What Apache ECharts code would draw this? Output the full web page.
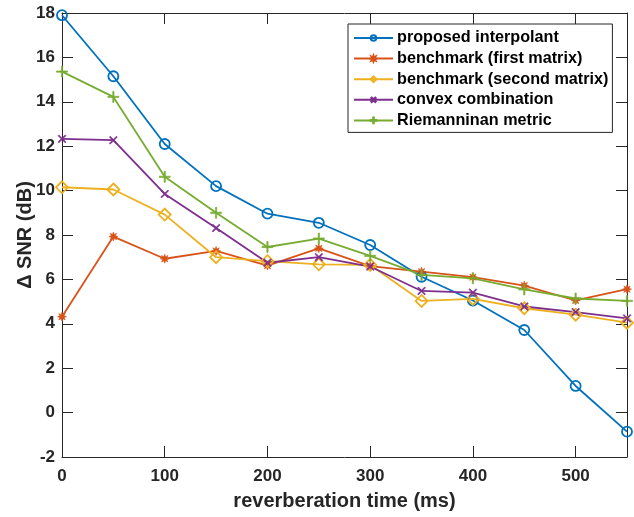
<!DOCTYPE html>
<html><head><meta charset="utf-8">
<script src="https://cdn.jsdelivr.net/npm/echarts@6/dist/echarts.min.js"></script>
<style>html,body{margin:0;padding:0;background:#fff}#c{width:634px;height:517px}</style>
</head><body><div id="c"></div>
<script>
const times = [0, 50, 100, 150, 200, 250, 300, 350, 400, 450, 500, 550];
const proposed = [17.9, 15.15, 12.1, 10.2, 8.96, 8.55, 7.55, 6.12, 5.05, 3.72, 1.2, -0.86];
const bench1 = [4.32, 7.93, 6.93, 7.28, 6.62, 7.4, 6.6, 6.35, 6.1, 5.72, 5.05, 5.56];
const bench2 = [10.15, 10.05, 8.92, 7.0, 6.82, 6.68, 6.65, 5.03, 5.12, 4.7, 4.41, 4.05];
const convex = [12.33, 12.27, 9.85, 8.31, 6.75, 7.0, 6.58, 5.48, 5.4, 4.78, 4.53, 4.24];
const riemann = [15.36, 14.22, 10.62, 9.0, 7.46, 7.84, 7.06, 6.2, 6.05, 5.55, 5.14, 5.03];
const seriesNames = ['proposed interpolant', 'benchmark (first matrix)', 'benchmark (second matrix)', 'convex combination', 'Riemanninan metric'];
const yTicks = {min: -2, max: 18, interval: 2};
const xTicks = {min: 0, max: 550, interval: 100};

const axisCol = '#262626';
const font = 'Liberation Sans, Arial, Helvetica, sans-serif';
const plus = 'path://M-0.6,-5L0.6,-5L0.6,-0.6L5,-0.6L5,0.6L0.6,0.6L0.6,5L-0.6,5L-0.6,0.6L-5,0.6L-5,-0.6L-0.6,-0.6Z';
function starPath(){
  let p = [];
  for (let i = 0; i < 16; i++) {
    const r = i % 2 === 0 ? 5 : 2.4;
    const a = Math.PI * i / 8 - Math.PI/2;
    p.push((i===0?'M':'L') + (r*Math.cos(a)).toFixed(2) + ',' + (r*Math.sin(a)).toFixed(2));
  }
  return 'path://' + p.join('') + 'Z';
}
const star = starPath();

function mk(name, data, color, symbol, size, hollow, rot) {
  return {
    name: name, type: 'line',
    data: times.map((t, i) => [t, data[i]]),
    symbol: symbol, symbolSize: size, symbolRotate: rot || 0,
    showAllSymbol: true,
    lineStyle: {color: color, width: 1.8},
    itemStyle: hollow ? {color: 'rgba(255,255,255,0)', borderColor: color, borderWidth: 1.8} : {color: color, borderColor: color, borderWidth: 0.6},
    emphasis: {disabled: true},
    animation: false, z: 3
  };
}

const chart = echarts.init(document.getElementById('c'));
chart.setOption({
  animation: false,
  backgroundColor: '#fff',
  grid: {left: 62, right: 7, top: 13, bottom: 60, containLabel: false},
  legend: {
    left: 348, top: 24, orient: 'vertical',
    backgroundColor: '#fff', borderColor: axisCol, borderWidth: 1,
    padding: [4, 4, 2, 5],
    itemWidth: 39, itemHeight: 7, itemGap: 0.6,
    textStyle: {fontFamily: font, fontWeight: 'bold', fontSize: 16.2, color: '#000', lineHeight: 20, padding: [0,0,0,-1]},
    data: seriesNames
  },
  xAxis: [{
    type: 'value', min: xTicks.min, max: xTicks.max, interval: xTicks.interval,
    name: 'reverberation time (ms)', nameLocation: 'middle', nameGap: 34, nameMoveOverlap: false,
    nameTextStyle: {fontFamily: font, fontWeight: 'bold', fontSize: 20, color: axisCol},
    axisLine: {onZero: false, lineStyle: {color: axisCol, width: 1}},
    axisTick: {inside: true, length: 11, lineStyle: {color: axisCol}},
    axisLabel: {fontFamily: font, fontWeight: 'bold', fontSize: 17, color: axisCol, margin: 11, showMaxLabel: false},
    splitLine: {show: false}
  }, {
    type: 'value', position: 'top', min: xTicks.min, max: xTicks.max, interval: xTicks.interval,
    axisLine: {onZero: false, lineStyle: {color: axisCol, width: 1}},
    axisTick: {inside: true, length: 11, lineStyle: {color: axisCol}},
    axisLabel: {show: false}, splitLine: {show: false}
  }],
  yAxis: [{
    type: 'value', min: yTicks.min, max: yTicks.max, interval: yTicks.interval,
    name: 'Δ SNR (dB)', nameLocation: 'middle', nameGap: 27, nameMoveOverlap: false,
    nameTextStyle: {fontFamily: font, fontWeight: 'bold', fontSize: 20, color: axisCol},
    axisLine: {show: true, onZero: false, lineStyle: {color: axisCol, width: 1}},
    axisTick: {show: true, inside: true, length: 11, lineStyle: {color: axisCol}},
    axisLabel: {fontFamily: font, fontWeight: 'bold', fontSize: 17, color: axisCol, margin: 7},
    splitLine: {show: false}
  }, {
    type: 'value', position: 'right', min: yTicks.min, max: yTicks.max, interval: yTicks.interval,
    axisLine: {show: true, onZero: false, lineStyle: {color: axisCol, width: 1}},
    axisTick: {show: true, inside: true, length: 11, lineStyle: {color: axisCol}},
    axisLabel: {show: false}, splitLine: {show: false}
  }],
  series: [
    mk(seriesNames[0], proposed, '#0072BD', 'circle', 10, true),
    mk(seriesNames[1], bench1, '#D95319', star, 9, false),
    mk(seriesNames[2], bench2, '#EDB120', 'diamond', 12, true),
    mk(seriesNames[3], convex, '#7E2F8E', plus, 10, false, 45),
    mk(seriesNames[4], riemann, '#77AC30', plus, 11, false)
  ]
});
</script></body></html>
